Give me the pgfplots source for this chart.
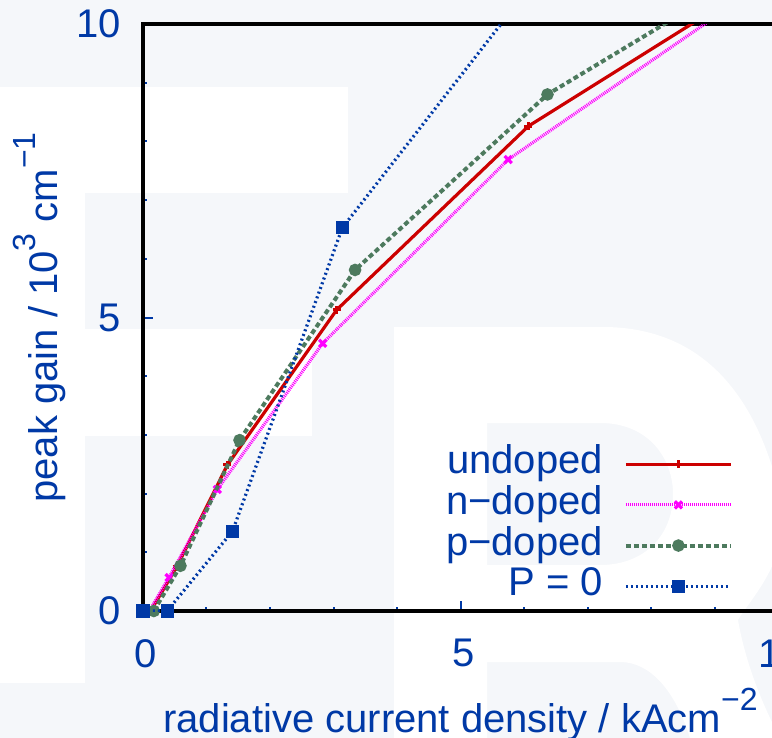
\documentclass[border=0pt]{standalone}
\usepackage{fontspec}
\setmainfont{Liberation Sans}
\usepackage{pgfplots}
\pgfplotsset{compat=1.18}

\definecolor{labelblue}{RGB}{0,57,166}
\definecolor{paper}{RGB}{245,247,250}
\definecolor{cUndoped}{RGB}{204,0,0}
\definecolor{cNdoped}{RGB}{255,0,255}
\definecolor{cPdoped}{RGB}{77,122,94}
\definecolor{cZero}{RGB}{0,57,166}

\newcommand{\sups}[1]{\raisebox{0.55em}{\fontsize{16}{16}\selectfont #1}}
\newcommand{\bigfont}{\fontsize{20}{24}\selectfont}

\begin{document}
\begin{tikzpicture}
\useasboundingbox (0,0) rectangle (386pt,-369pt);
\clip (0,0) rectangle (386pt,-369pt);
% faint lettering in the page background (units of half a point, y downwards)
\begin{scope}[x=0.5pt,y=-0.5pt]
  \fill[paper] (0,0) rectangle (772,738);
  \fill[white] (0,87) rectangle (85,683);
  \fill[white] (0,87) rectangle (348,193);
  \fill[white] (0,329) rectangle (312,436);
  \fill[white,even odd rule]
    (394,738) -- (394,327) -- (603,327) .. controls (690,327) and (760,380) .. (785,520)
    .. controls (780,570) and (750,600) .. (738,620)
    .. controls (745,660) and (760,700) .. (780,738) -- cycle
    (487,423) -- (600,423) .. controls (650,423) and (673,460) .. (673,494)
    .. controls (673,535) and (645,565) .. (600,565) -- (487,565) -- cycle
    (487,662) -- (620,662) .. controls (650,662) and (675,690) .. (690,738) -- (487,738) -- cycle;
\end{scope}

\begin{axis}[
  at={(71.5pt,-305.5pt)}, anchor=south west,
  scale only axis, width=317.5pt, height=293.5pt,
  xmin=0, xmax=10, ymin=0, ymax=10,
  clip mode=individual,
  axis line style={black, line width=2pt},
  xtick={0,5,10}, ytick={0,5,10},
  minor xtick={1,2,3,4,6,7,8,9},
  minor ytick={1,2,3,4,6,7,8,9},
  tick align=inside, xtick pos=left, ytick pos=left,
  major tick length=5pt, minor tick length=2pt,
  every tick/.style={labelblue, line width=1pt},
  /pgf/number format/assume math mode=true,
  tick label style={font=\bigfont, text=labelblue, inner sep=0pt},
  xticklabel style={anchor=north, yshift=-14pt, xshift=1.5pt},
  yticklabel style={anchor=east, xshift=-11pt},
  xlabel={radiative current density / kAcm\sups{−2}},
  ylabel={peak gain / 10\sups{3} cm\sups{−1}},
  label style={font=\bigfont, text=labelblue},
  xlabel style={at={(axis description cs:0.5,-0.2078)}, anchor=base},
  ylabel style={at={(axis description cs:-0.1339,0.5)}, anchor=base},
  legend style={at={(axis cs:9.29,0.075)}, anchor=south east,
    draw=none, fill=none, inner sep=0pt, outer sep=0pt, row sep=0pt,
    font=\bigfont, text=labelblue,
    nodes={inner sep=0pt, text height=15pt, text depth=5.35pt},
    /tikz/every odd column/.append style={column sep=10.5pt}},
  legend cell align=right, legend plot pos=right,
  legend image code/.code={\draw[mark repeat=2,mark phase=2]
    plot coordinates {(0pt,0pt) (26.25pt,0pt) (52.5pt,0pt)};},
]
\addplot[cUndoped, line width=1.6pt, mark=+, mark size=2pt,
  mark options={solid, line width=1.5pt}] coordinates {
  (0.12,0) (0.53,0.75) (1.33,2.49) (3.05,5.13) (6.07,8.26) (10.5,11.26)};
\addlegendentry{undoped}
\addplot[cNdoped, line width=1.6pt, dash pattern=on 0.5pt off 0.5pt, mark=x, mark size=2.5pt,
  mark options={solid, line width=1.6pt}] coordinates {
  (0.10,0) (0.41,0.57) (1.17,2.07) (2.83,4.56) (5.75,7.69) (10,10.86)};
\addlegendentry{n−doped}
\addplot[cPdoped, line width=2pt, dash pattern=on 2.5pt off 1.5pt, mark=*, mark size=2.1pt,
  mark options={solid}] coordinates {
  (0.17,0) (0.59,0.77) (1.52,2.91) (3.34,5.81) (6.37,8.80) (10.5,11.49)};
\addlegendentry{p−doped}
\addplot[cZero, line width=1.6pt, dash pattern=on 1pt off 1.5pt, mark=square*, mark size=2.5pt,
  mark options={solid}] coordinates {
  (0,0) (0.38,0) (1.41,1.36) (3.14,6.53) (6.2,10.78)};
\addlegendentry{P = 0}
\end{axis}
\end{tikzpicture}
\end{document}
